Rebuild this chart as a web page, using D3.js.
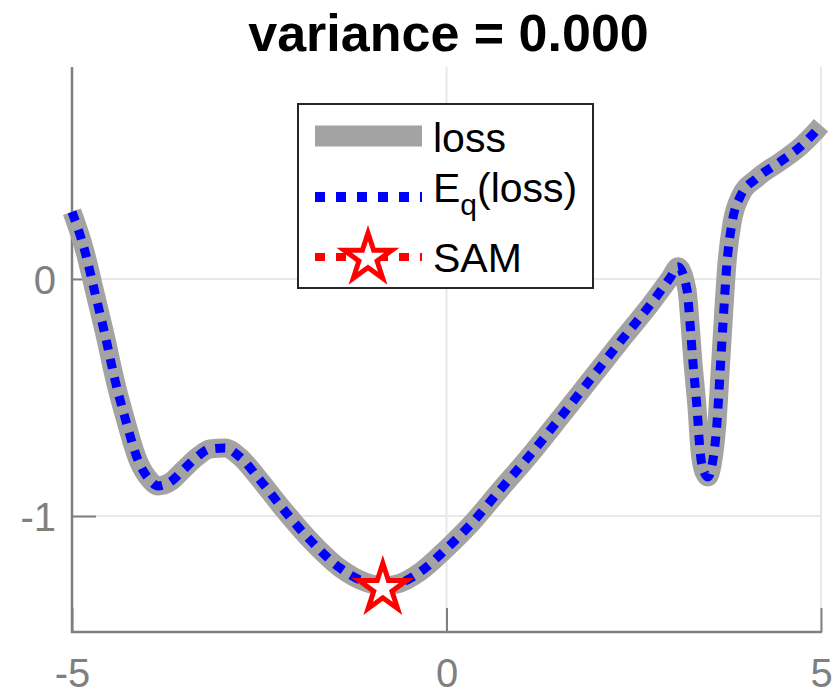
<!DOCTYPE html>
<html>
<head>
<meta charset="utf-8">
<script src="https://cdn.jsdelivr.net/npm/d3@7"></script>
<style>
  html, body { margin: 0; padding: 0; background: #ffffff; }
  svg { display: block; }
  text { font-family: "Liberation Sans", Arial, Helvetica, sans-serif; }
</style>
</head>
<body>
<svg id="chart" width="834" height="694"></svg>
<script>
// Sampled 1-D loss landscape
const xs = [-5.000, -4.826, -4.693, -4.559, -4.426, -4.292, -4.119, -3.959, -3.852, -3.692,
            -3.518, -3.331, -3.158, -2.957, -2.757, -2.490, -2.223, -1.822, -1.422, -1.088,
            -0.848, -0.621, -0.354, 0.007, 0.314, 0.714, 1.115, 1.515, 1.916, 2.316,
            2.717, 2.984, 3.091, 3.211, 3.251, 3.291, 3.344, 3.384, 3.438, 3.491,
            3.545, 3.611, 3.652, 3.692, 3.745, 3.812, 3.919, 4.146, 4.453, 4.720,
            4.947, 5.000];
const loss = [0.283, 0.115, -0.059, -0.236, -0.426, -0.586, -0.764, -0.848, -0.873, -0.857,
              -0.806, -0.751, -0.717, -0.713, -0.751, -0.848, -0.954, -1.101, -1.219, -1.278,
              -1.295, -1.283, -1.236, -1.135, -1.038, -0.890, -0.743, -0.586, -0.426, -0.266,
              -0.110, 0.004, 0.051, -0.046, -0.186, -0.354, -0.540, -0.722, -0.814, -0.835,
              -0.785, -0.608, -0.397, -0.186, 0.068, 0.236, 0.346, 0.426, 0.494, 0.557,
              0.629, 0.648];
// Expected loss under q (variance 0, so it coincides with the loss)
const eqLoss = [0.283, 0.115, -0.059, -0.236, -0.426, -0.586, -0.764, -0.848, -0.873, -0.857,
                -0.806, -0.751, -0.717, -0.713, -0.751, -0.848, -0.954, -1.101, -1.219, -1.278,
                -1.295, -1.283, -1.236, -1.135, -1.038, -0.890, -0.743, -0.586, -0.426, -0.266,
                -0.110, 0.004, 0.051, -0.046, -0.186, -0.354, -0.540, -0.722, -0.814, -0.835,
                -0.785, -0.608, -0.397, -0.186, 0.068, 0.236, 0.346, 0.426, 0.494, 0.557,
                0.629, 0.648];
// SAM solution
const samX = [-0.85];
const samY = [-1.30];

const xTicks = [-5, 0, 5];
const yTicks = [-1, 0];
const legendLabels = ["loss", "E", "SAM"];
const titleText = "variance = 0.000";

const svg = d3.select("#chart");
const mLeft = 72, mRight = 821, mTop = 67, mBottom = 632;

const x = d3.scaleLinear().domain([-5, 5]).range([mLeft, mRight]);
const y = d3.scaleLinear().domain([-1.489, 0.894]).range([mBottom, mTop]);

const axisGray = "#808080";
const gridGray = "#e8e8e8";

// grid
const g = svg.append("g");
g.selectAll(".gx").data(xTicks).join("line")
  .attr("x1", d => x(d)).attr("x2", d => x(d))
  .attr("y1", mTop).attr("y2", mBottom)
  .attr("stroke", gridGray).attr("stroke-width", 2);
g.selectAll(".gy").data(yTicks).join("line")
  .attr("x1", mLeft).attr("x2", mRight)
  .attr("y1", d => y(d)).attr("y2", d => y(d))
  .attr("stroke", gridGray).attr("stroke-width", 2);

// axes with inward ticks
const fmt = d => d < 0 ? "-" + Math.abs(d) : String(d);
const xAxis = d3.axisBottom(x).tickValues(xTicks).tickSize(-24).tickPadding(27).tickFormat(fmt);
const yAxis = d3.axisLeft(y).tickValues(yTicks).tickSize(-24).tickPadding(16).tickFormat(fmt);

const gx = svg.append("g").attr("transform", `translate(0,${mBottom})`).call(xAxis);
const gy = svg.append("g").attr("transform", `translate(${mLeft},0)`).call(yAxis);
[gx, gy].forEach(ax => {
  ax.select(".domain").remove();
  ax.selectAll(".tick line").attr("stroke", axisGray).attr("stroke-width", 2);
  ax.selectAll(".tick text").attr("fill", axisGray)
    .style("font-size", "40px").style("font-family", "Liberation Sans, Arial, sans-serif");
});
gx.selectAll(".tick text").attr("dy", "0.71em");
gy.selectAll(".tick text").attr("dy", "0.36em");

// axis lines (left and bottom)
svg.append("line").attr("x1", mLeft).attr("x2", mLeft).attr("y1", mTop).attr("y2", mBottom + 1)
  .attr("stroke", axisGray).attr("stroke-width", 2.5);
svg.append("line").attr("x1", mLeft - 1).attr("x2", mRight + 1).attr("y1", mBottom).attr("y2", mBottom)
  .attr("stroke", axisGray).attr("stroke-width", 2.5);

// curves
const lineLoss = d3.line().x((d, i) => x(xs[i])).y(d => y(d)).curve(d3.curveMonotoneX);
svg.append("path").datum(loss).attr("d", lineLoss)
  .attr("fill", "none").attr("stroke", "#a3a3a3").attr("stroke-width", 19)
  .attr("stroke-linejoin", "round").attr("stroke-linecap", "butt");
svg.append("path").datum(eqLoss).attr("d", lineLoss)
  .attr("fill", "none").attr("stroke", "#0000ff").attr("stroke-width", 9)
  .attr("stroke-dasharray", "10,9").attr("stroke-linejoin", "round");

// pentagram marker
function starPath(cx, cy, R) {
  const r = R * 0.382;
  const pts = [];
  for (let k = 0; k < 10; k++) {
    const a = -Math.PI / 2 + k * Math.PI / 5;
    const rad = k % 2 === 0 ? R : r;
    pts.push([cx + rad * Math.cos(a), cy + rad * Math.sin(a)]);
  }
  return "M" + pts.map(p => p.join(",")).join("L") + "Z";
}
svg.selectAll(".sam").data(samX).join("path")
  .attr("d", (d, i) => starPath(x(d), y(samY[i]) + 1, 25))
  .attr("fill", "#ffffff").attr("stroke", "#ff0000").attr("stroke-width", 5)
  .attr("stroke-linejoin", "miter");

// title
svg.append("text").attr("x", (mLeft + mRight) / 2 + 2).attr("y", 51)
  .attr("text-anchor", "middle").attr("font-weight", "bold")
  .style("font-size", "52px").attr("fill", "#000").text(titleText);

// legend
const lg = svg.append("g");
lg.append("rect").attr("x", 298).attr("y", 104).attr("width", 295).attr("height", 184)
  .attr("fill", "#ffffff").attr("stroke", "#262626").attr("stroke-width", 2);
const rows = [136, 197, 257];
lg.append("line").attr("x1", 315).attr("x2", 422).attr("y1", rows[0]).attr("y2", rows[0])
  .attr("stroke", "#a3a3a3").attr("stroke-width", 21);
lg.append("line").attr("x1", 315).attr("x2", 422).attr("y1", rows[1]).attr("y2", rows[1])
  .attr("stroke", "#0000ff").attr("stroke-width", 10).attr("stroke-dasharray", "10,11");
lg.append("line").attr("x1", 315).attr("x2", 422).attr("y1", rows[2]).attr("y2", rows[2])
  .attr("stroke", "#ff0000").attr("stroke-width", 8).attr("stroke-dasharray", "10,11");
lg.append("path").attr("d", starPath(368, rows[2] + 1, 25))
  .attr("fill", "#ffffff").attr("stroke", "#ff0000").attr("stroke-width", 5);

const fs = 41;
lg.append("text").attr("x", 433).attr("y", 152).style("font-size", fs + "px")
  .attr("fill", "#000").text(legendLabels[0]);
const t2 = lg.append("text").attr("x", 433).attr("y", 202).style("font-size", fs + "px").attr("fill", "#000");
t2.append("tspan").text(legendLabels[1]);
t2.append("tspan").attr("dy", 13).style("font-size", "30px").text("q");
t2.append("tspan").attr("dy", -13).text("(loss)");
lg.append("text").attr("x", 433).attr("y", 272).style("font-size", fs + "px")
  .attr("fill", "#000").text(legendLabels[2]);
</script>
</body>
</html>
